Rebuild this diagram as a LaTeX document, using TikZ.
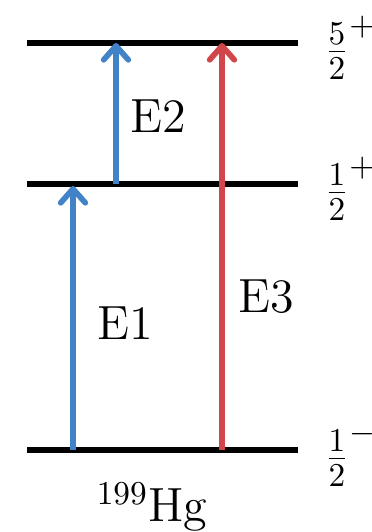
\documentclass[tikz,border=0pt]{standalone}
\usetikzlibrary{positioning,arrows.meta}
\definecolor{transblue}{RGB}{66,131,200}
\definecolor{transred}{RGB}{208,70,74}

\begin{document}
\begin{tikzpicture}[x=0.3pt,y=-0.3pt,
  level/.style={line width=1.7pt},
  trans/.style={line width=1.7pt, -{Straight Barb[length=4.2pt,width=7.4pt,line width=1.7pt,round]}},
  elabel/.style={font=\Large, inner sep=0pt},
  spin/.style={anchor=west, inner sep=0pt, font=\Large}
]
  \useasboundingbox (0,0) rectangle (371,532);

  % levels
  \coordinate (g0) at (27,450); \coordinate (g1) at (298,450);
  \coordinate (m0) at (27,184); \coordinate (m1) at (298,184);
  \coordinate (u0) at (27,43);  \coordinate (u1) at (298,43);
  \draw[level] (g0) -- (g1);
  \draw[level] (m0) -- (m1);
  \draw[level] (u0) -- (u1);

  \node[spin, right=7.8pt of g1, yshift=-1.5pt] (sg) {$\frac{1}{2}^{-}$};
  \node[spin, right=7.8pt of m1, yshift=-1.5pt] (sm) {$\frac{1}{2}^{+}$};
  \node[spin, right=7.8pt of u1, yshift=-1.5pt] (su) {$\frac{5}{2}^{+}$};

  % transitions
  \coordinate (e1a) at (73,450);  \coordinate (e1b) at (73,186);
  \coordinate (e2a) at (116,184); \coordinate (e2b) at (116,43);
  \coordinate (e3a) at (222,450); \coordinate (e3b) at (222,43);
  \draw[trans, transblue] (e1a) -- node[elabel, right=6.6pt, pos=0.48, black] (E1) {E1} (e1b);
  \draw[trans, transblue] (e2a) -- node[elabel, right=3.6pt, pos=0.48, black] (E2) {E2} (e2b);
  \draw[trans, transred] (e3a) -- node[elabel, right=4.2pt, pos=0.378, black] (E3) {E3} (e3b);

  \node[font=\Large] (hg) at (152,507) {$^{199}$Hg};
\end{tikzpicture}
\end{document}
